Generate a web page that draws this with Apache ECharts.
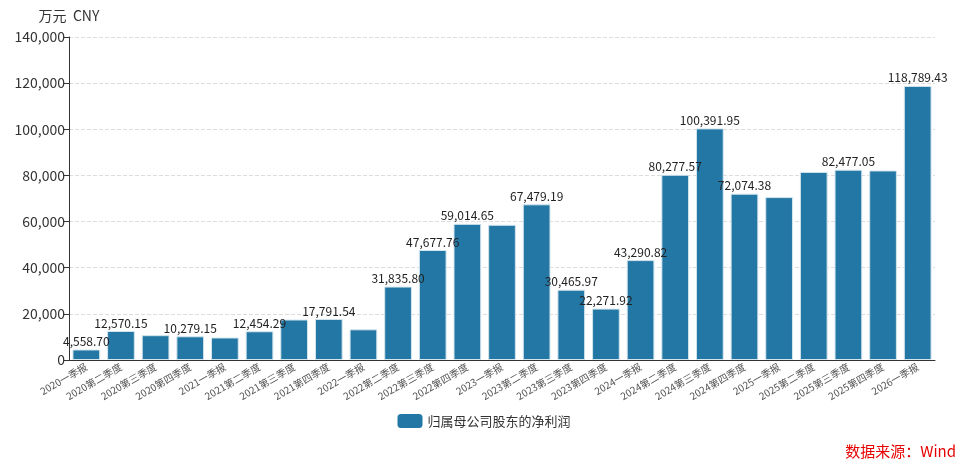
<!DOCTYPE html>
<html>
<head>
<meta charset="utf-8">
<script src="https://cdn.jsdelivr.net/npm/echarts@6/dist/echarts.min.js"></script>
<style>
  html, body { margin: 0; padding: 0; background: #fff; }
  #main { width: 968px; height: 465px; }
</style>
</head>
<body>
<div id="main"></div>
<script>
// quarters and net profit (万元)
var quarters = [
    '2020一季报', '2020第二季度', '2020第三季度', '2020第四季度',
    '2021一季报', '2021第二季度', '2021第三季度', '2021第四季度',
    '2022一季报', '2022第二季度', '2022第三季度', '2022第四季度',
    '2023一季报', '2023第二季度', '2023第三季度', '2023第四季度',
    '2024一季报', '2024第二季度', '2024第三季度', '2024第四季度',
    '2025一季报', '2025第二季度', '2025第三季度', '2025第四季度',
    '2026一季报'
];
var netProfit = [
    4558.70, 12570.15, 10750, 10279.15,
    9750, 12454.29, 17550, 17791.54,
    13300, 31835.80, 47677.76, 59014.65,
    58600, 67479.19, 30465.97, 22271.92,
    43290.82, 80277.57, 100391.95, 72074.38,
    70600, 81500, 82477.05, 82150,
    118789.43
];
var yTicks = [0, 20000, 40000, 60000, 80000, 100000, 120000, 140000];

var fontFamily = '"Noto Sans CJK SC", "Noto Sans", sans-serif';

var chart = echarts.init(document.getElementById('main'));
var option = {
    textStyle: { fontFamily: fontFamily },
    grid: { left: 69, right: 33, top: 37, bottom: 105 },
    legend: {
        bottom: 32,
        left: 'center',
        itemWidth: 25,
        itemHeight: 14,
        itemStyle: { borderWidth: 0 },
        textStyle: { fontSize: 13, color: '#333' },
        data: ['归属母公司股东的净利润']
    },
    graphic: [{
        type: 'text',
        right: 12,
        bottom: 6,
        style: { text: '数据来源：Wind', fill: '#e60000', fontSize: 15, fontFamily: fontFamily }
    }],
    xAxis: {
        type: 'category',
        data: quarters,
        axisLine: { lineStyle: { color: '#333' } },
        axisTick: { alignWithLabel: true, lineStyle: { color: '#333' } },
        axisLabel: { interval: 0, rotate: 30, fontSize: 10, color: '#555', margin: 6 }
    },
    yAxis: {
        type: 'value',
        name: '万元  CNY',
        nameGap: 14,
        nameTextStyle: { fontSize: 14, color: '#333', align: 'center' },
        min: yTicks[0],
        max: yTicks[yTicks.length - 1],
        interval: 20000,
        axisLine: { show: true, lineStyle: { color: '#333' } },
        axisTick: { show: true, lineStyle: { color: '#333' } },
        axisLabel: {
            fontSize: 14, color: '#333', margin: 4,
            formatter: function (v) { return v.toLocaleString('en-US'); }
        },
        splitLine: { lineStyle: { type: 'dashed', color: '#ddd' } }
    },
    series: [{
        name: '归属母公司股东的净利润',
        type: 'bar',
        data: netProfit,
        barCategoryGap: '20%',
        itemStyle: { color: '#2377a4', borderColor: '#d3e5ee', borderWidth: 1 },
        label: {
            show: true,
            position: 'top',
            distance: 2,
            fontSize: 12,
            color: '#222',
            formatter: function (p) {
                return p.value.toLocaleString('en-US', { minimumFractionDigits: 2, maximumFractionDigits: 2 });
            }
        },
        labelLayout: { hideOverlap: true }
    }]
};
chart.setOption(option);
</script>
</body>
</html>
